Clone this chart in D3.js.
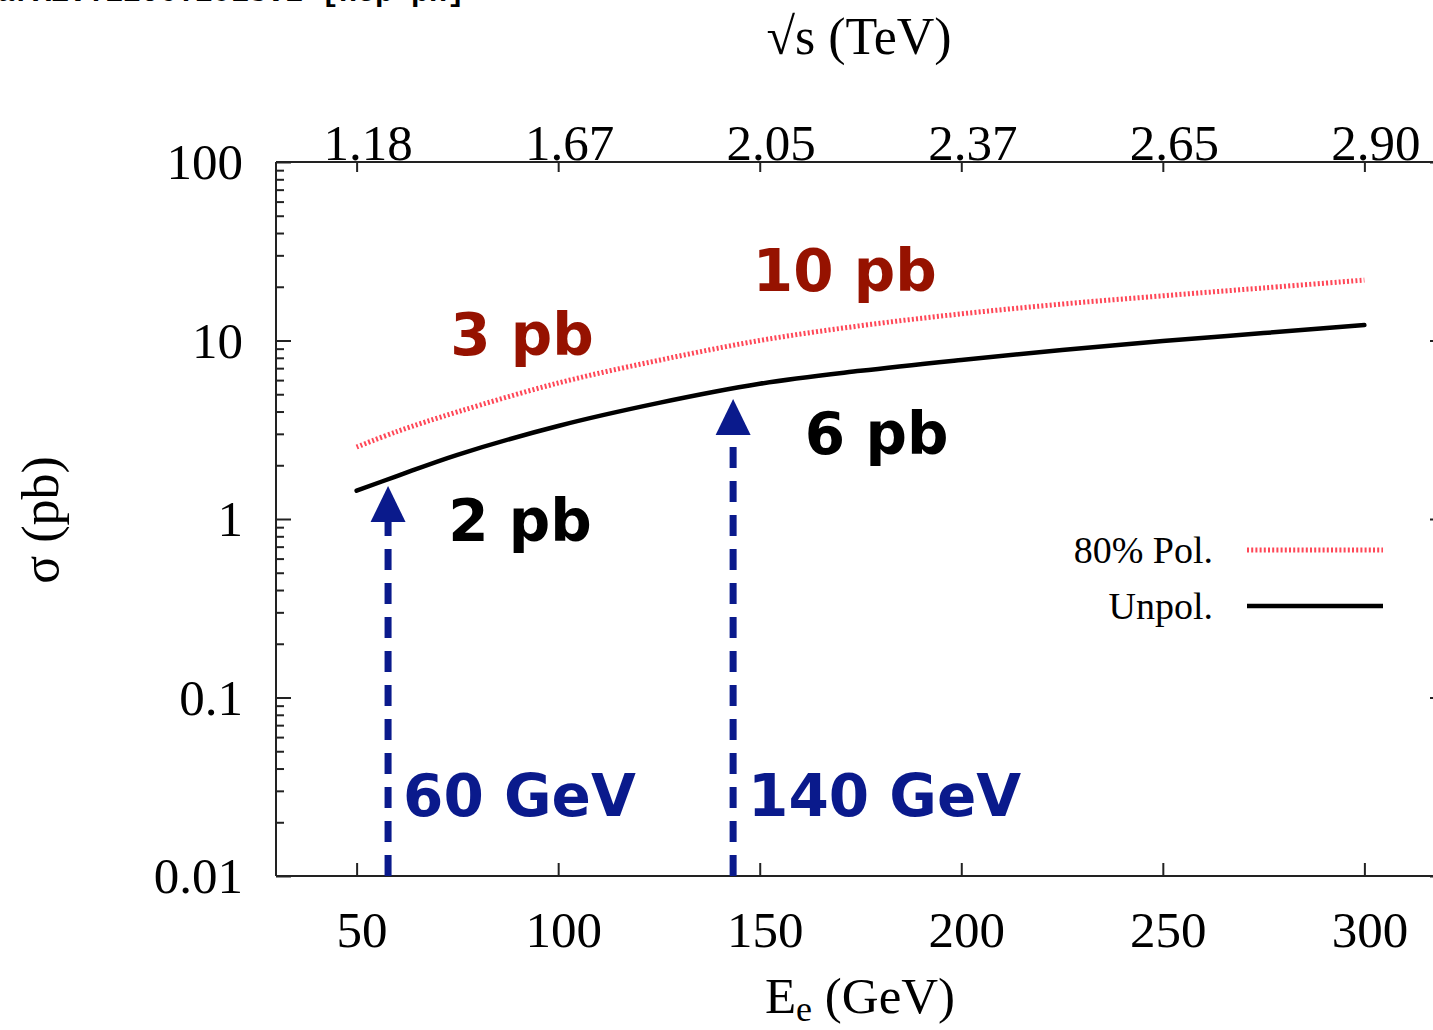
<!DOCTYPE html>
<html>
<head>
<meta charset="utf-8">
<script src="https://cdn.jsdelivr.net/npm/d3@7"></script>
<style>
  html, body { margin: 0; padding: 0; background: #fff; }
  svg { display: block; }
</style>
</head>
<body>
<svg id="chart" width="1433" height="1030"></svg>
<script>
// Electron beam energy (GeV) and cross sections (pb)
const energies  = [50, 60, 75, 100, 125, 150, 175, 200, 225, 250, 275, 300];
const unpolXS   = [1.44, 1.74, 2.29, 3.32, 4.47, 5.72, 6.76, 7.78, 8.85, 9.93, 11.0, 12.2];
const polXS     = [2.53, 3.09, 3.98, 5.78, 7.75, 10.0, 12.1, 14.1, 16.0, 17.8, 19.7, 21.8];

// Axis ticks
const xTicks      = [50, 100, 150, 200, 250, 300];
const sqrtSLabels = ["1.18", "1.67", "2.05", "2.37", "2.65", "2.90"];
const yTicks      = [0.01, 0.1, 1, 10, 100];
const yTickLabels = ["0.01", "0.1", "1", "10", "100"];

// Benchmark arrows: beam energy and arrow-tip cross section
const arrowEnergies = [57.8, 143.4];
const arrowTips     = [1.53, 4.7];
const arrowLabels   = ["60 GeV", "140 GeV"];

// Cross-section callouts: text, anchor energy, anchor pb, colour
const calloutText  = ["3 pb", "10 pb", "2 pb", "6 pb"];
const calloutE     = [73.2, 148.3, 72.7, 161.2];
const calloutPb    = [8.3, 18.9, 0.753, 2.31];
const calloutColor = ["#961200", "#961200", "#000000", "#000000"];

const legendNames = ["80% Pol.", "Unpol."];

const svg = d3.select("#chart");

const x = d3.scaleLinear().domain([30, 320]).range([276, 1445]);
const y = d3.scaleLog().domain([0.01, 100]).range([876, 162]);

const serif = "'Liberation Serif', 'Times New Roman', serif";
const sans  = "'DejaVu Sans', sans-serif";

// arXiv stamp along the top edge
svg.append("text")
  .attr("x", 465).attr("y", 1)
  .attr("text-anchor", "end")
  .attr("font-family", "'Liberation Mono', monospace")
  .attr("font-weight", "bold")
  .attr("font-size", 30)
  .text("arXiv:1206.2913v1 [hep-ph]");

const axisColor = "#222";

// Frame: left, bottom, top, right
const frame = svg.append("g").attr("stroke", axisColor).attr("stroke-width", 2).attr("fill", "none");
frame.append("line").attr("x1", x(30)).attr("x2", x(30)).attr("y1", y(0.01)).attr("y2", y(100));
frame.append("line").attr("x1", x(30)).attr("x2", x(320)).attr("y1", y(0.01)).attr("y2", y(0.01));
frame.append("line").attr("x1", x(30)).attr("x2", x(320)).attr("y1", y(100)).attr("y2", y(100));
frame.append("line").attr("x1", x(320)).attr("x2", x(320)).attr("y1", y(0.01)).attr("y2", y(100));

// Bottom axis (E_e)
const bottomAxis = d3.axisBottom(x).tickValues(xTicks).tickSize(-13).tickPadding(0).tickFormat(d3.format("d"));
const gB = svg.append("g").attr("transform", `translate(0,${y(0.01)})`).call(bottomAxis);
gB.select(".domain").remove();
gB.selectAll(".tick line").attr("stroke", axisColor).attr("stroke-width", 2);
gB.selectAll(".tick text").attr("font-family", serif).attr("font-size", 51).attr("fill", "#000")
  .attr("dy", null).attr("y", 71).attr("x", 5);

// Top axis (sqrt s)
const topAxis = d3.axisTop(x).tickValues(xTicks).tickSize(-10).tickPadding(0)
  .tickFormat((d, i) => sqrtSLabels[i]);
const gT = svg.append("g").attr("transform", `translate(0,${y(100)})`).call(topAxis);
gT.select(".domain").remove();
gT.selectAll(".tick line").attr("stroke", axisColor).attr("stroke-width", 2);
gT.selectAll(".tick text").attr("font-family", serif).attr("font-size", 51).attr("fill", "#000")
  .attr("y", -2).attr("dy", null).attr("x", 11);

// Left axis (sigma) with log minor ticks
const minorTicks = [];
for (let e = -2; e < 2; e++) for (let m = 2; m <= 9; m++) minorTicks.push(m * Math.pow(10, e));
const leftAxis = d3.axisLeft(y).tickValues(yTicks).tickSize(-15).tickPadding(0)
  .tickFormat((d, i) => yTickLabels[i]);
const gL = svg.append("g").attr("transform", `translate(${x(30)},0)`).call(leftAxis);
gL.select(".domain").remove();
gL.selectAll(".tick line").attr("stroke", axisColor).attr("stroke-width", 2);
gL.selectAll(".tick text").attr("font-family", serif).attr("font-size", 51).attr("fill", "#000")
  .attr("x", -33).attr("dy", "0.33em");
const gLm = svg.append("g").attr("transform", `translate(${x(30)},0)`)
  .call(d3.axisLeft(y).tickValues(minorTicks).tickSize(-8).tickFormat(""));
gLm.select(".domain").remove();
gLm.selectAll(".tick line").attr("stroke", axisColor).attr("stroke-width", 2);

// Right axis ticks (mirror)
const gR = svg.append("g").attr("transform", `translate(${x(320)},0)`)
  .call(d3.axisRight(y).tickValues(yTicks).tickSize(-15).tickFormat(""));
gR.select(".domain").remove();
gR.selectAll(".tick line").attr("stroke", axisColor).attr("stroke-width", 2);

// Axis titles
svg.append("text").attr("x", 859).attr("y", 54).attr("text-anchor", "middle")
  .attr("font-family", serif).attr("font-size", 52).text("\u221As (TeV)");
const xt = svg.append("text").attr("x", 860).attr("y", 1013).attr("text-anchor", "middle")
  .attr("font-family", serif).attr("font-size", 51);
xt.append("tspan").text("E");
xt.append("tspan").attr("font-size", 36).attr("dy", 8).text("e");
xt.append("tspan").attr("dy", -8).text(" (GeV)");
svg.append("text").attr("transform", "translate(58,520) rotate(-90)").attr("text-anchor", "middle")
  .attr("font-family", serif).attr("font-size", 52).text("\u03C3 (pb)");

// Curves
const line = d3.line().curve(d3.curveCatmullRom.alpha(0.5)).x(d => x(d[0])).y(d => y(d[1]));
const polColor = "#ff4757";
svg.append("path").datum(energies.map((e, i) => [e, polXS[i]]))
  .attr("d", line).attr("fill", "none").attr("stroke", polColor)
  .attr("stroke-width", 5).attr("stroke-dasharray", "2,2.2");
svg.append("path").datum(energies.map((e, i) => [e, unpolXS[i]]))
  .attr("d", line).attr("fill", "none").attr("stroke", "#000")
  .attr("stroke-width", 4.5).attr("stroke-linecap", "round");

// Legend
const legY = [550, 606];
legendNames.forEach((name, i) => {
  svg.append("text").attr("x", 1213).attr("y", legY[i]).attr("dy", "0.35em")
    .attr("text-anchor", "end").attr("font-family", serif).attr("font-size", 38).text(name);
  const l = svg.append("line").attr("x1", 1247).attr("x2", 1383).attr("y1", legY[i]).attr("y2", legY[i]);
  if (i === 0) l.attr("stroke", polColor).attr("stroke-width", 5).attr("stroke-dasharray", "2,2.2");
  else l.attr("stroke", "#000").attr("stroke-width", 4.5);
});

// Benchmark arrows
const blue = "#0a1a8c";
arrowEnergies.forEach((e, i) => {
  const ax = x(e), tip = y(arrowTips[i]);
  const headH = 36, headW = 35;
  svg.append("line").attr("x1", ax).attr("x2", ax)
    .attr("y1", y(0.01)).attr("y2", tip + headH - 2)
    .attr("stroke", blue).attr("stroke-width", 7).attr("stroke-dasharray", "21,13");
  svg.append("path")
    .attr("d", `M${ax},${tip} L${ax - headW / 2},${tip + headH} L${ax + headW / 2},${tip + headH} Z`)
    .attr("fill", blue);
  svg.append("text").attr("x", ax + 15).attr("y", y(0.01) - 60)
    .attr("font-family", sans).attr("font-weight", "bold").attr("font-size", 58)
    .attr("fill", blue).text(arrowLabels[i]);
});

// Cross-section callouts
calloutText.forEach((t, i) => {
  svg.append("text").attr("x", x(calloutE[i])).attr("y", y(calloutPb[i]))
    .attr("font-family", sans).attr("font-weight", "bold").attr("font-size", 58)
    .attr("fill", calloutColor[i]).text(t);
});
</script>
</body>
</html>
